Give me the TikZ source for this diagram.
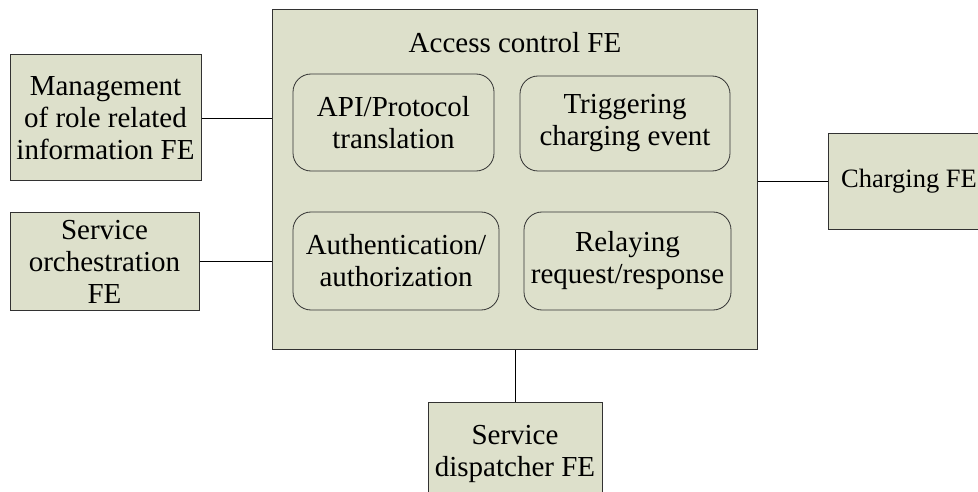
\documentclass[tikz,border=0pt]{standalone}
\usepackage{fontspec}
\setmainfont{Liberation Serif}
\definecolor{boxfill}{RGB}{221,224,203}
\definecolor{boxline}{RGB}{50,50,50}
\begin{document}
\begin{tikzpicture}[x=1pt,y=-1pt,
  fe/.style={draw=boxline,line width=1pt,fill=boxfill,inner sep=0pt,align=center,
    font=\fontsize{29}{32}\selectfont},
  sub/.style={draw=boxline,line width=0.8pt,rounded corners=18pt,inner sep=0pt,align=center,
    font=\fontsize{29}{32}\selectfont},
  link/.style={draw=black,line width=0.8pt}]
\useasboundingbox (0,0) rectangle (978,492);
% main box
\node[fe,minimum width=485pt,minimum height=339pt] (main) at (514.5,179.5) {};
\node[font=\fontsize{29}{32}\selectfont,inner sep=0pt] (title) at (515,43) {Access control FE};
\node[sub,minimum width=201pt,minimum height=97pt] (api) at (393.5,122.5) {API/Protocol\\translation};
\node[sub,minimum width=210pt,minimum height=95pt] (trig) at (625,123.5) {Triggering\\charging event};
\node[sub,minimum width=206pt,minimum height=98pt] (auth) at (396,261) {Authentication/\\authorization};
\node[sub,minimum width=207pt,minimum height=98pt] (relay) at (627.5,261) {Relaying\\request/response};
% outer boxes
\node[fe,minimum width=191pt,minimum height=126pt] (mgmt) at (105.5,118) {Management\\of role related\\information FE};
\node[fe,minimum width=189pt,minimum height=97pt] (orch) at (104.5,261.5) {Service\\orchestration\\FE};
\node[fe,minimum width=162pt,minimum height=95pt,font=\fontsize{26.5}{30}\selectfont] (chg) at (909,181.5) {Charging FE};
\node[fe,minimum width=174pt,minimum height=104pt] (disp) at (515,454) {Service\\dispatcher FE};
% connectors
\draw[link] (mgmt.east) -- (mgmt.east -| main.west);
\draw[link] (orch.east) -- (orch.east -| main.west);
\draw[link] (chg.west) -- (chg.west -| main.east);
\draw[link] (disp.north) -- (disp.north |- main.south);
\end{tikzpicture}
\end{document}
